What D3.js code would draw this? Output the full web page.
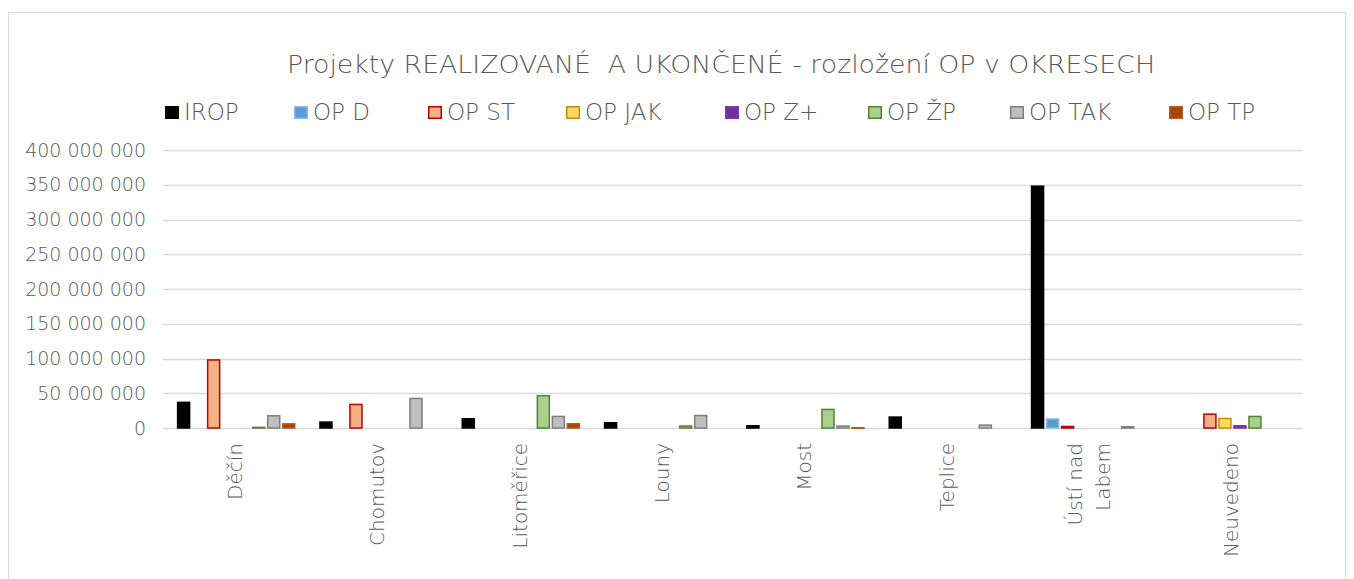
<!DOCTYPE html>
<html>
<head>
<meta charset="utf-8">
<script src="https://cdn.jsdelivr.net/npm/d3@7"></script>
<style>
  body { margin: 0; background: #fff; }
  text { font-family: "DejaVu Sans", sans-serif; font-weight: 300; fill: #595959; }
</style>
</head>
<body>
<div id="container"></div>
<script>
/* DATA */
const categories = ["Děčín", "Chomutov", "Litoměřice", "Louny", "Most", "Teplice", "Ústí nad Labem", "Neuvedeno"];
const seriesNames = ["IROP", "OP D", "OP ST", "OP JAK", "OP Z+", "OP ŽP", "OP TAK", "OP TP"];

const irop  = [38000000, 9600000, 14400000, 8600000, 4300000, 16800000, 349000000, 0];
const opD   = [0, 0, 0, 0, 0, 0, 14000000, 0];
const opST  = [99000000, 35000000, 0, 0, 0, 0, 3300000, 21000000];
const opJAK = [0, 0, 0, 0, 0, 0, 0, 14800000];
const opZ   = [0, 0, 0, 0, 0, 0, 0, 4300000];
const opZP  = [2000000, 0, 47500000, 3900000, 27800000, 0, 0, 17700000];
const opTAK = [18700000, 43600000, 17700000, 19000000, 3900000, 5300000, 2900000, 0];
const opTP  = [7000000, 0, 7200000, 0, 1500000, 0, 0, 0];

const yTicks = [0, 50000000, 100000000, 150000000, 200000000, 250000000, 300000000, 350000000, 400000000];

const fills   = ["#000000", "#5b9bd5", "#f4b183", "#ffd966", "#7030a0", "#a9d18e", "#bfbfbf", "#a0470f"];
const strokes = ["#000000", "#8db4e2", "#c00000", "#bf9000", "#7a3aa8", "#548235", "#7f7f7f", "#b9561a"];

const seriesValues = [irop, opD, opST, opJAK, opZ, opZP, opTAK, opTP];

/* CONSTANTS */
const width = 1354;
const height = 579;
const plot = { left: 165, right: 1303.6, top: 150, bottom: 428 };

/* SCALES */
const x0 = d3.scaleBand()
  .domain(categories)
  .range([plot.left, plot.right]);

const x1 = d3.scaleBand()
  .domain(seriesNames)
  .range([0, x0.bandwidth()])
  .paddingInner(0.1)
  .paddingOuter(0.79);

const yScale = d3.scaleLinear()
  .domain([0, 400000000])
  .range([plot.bottom, plot.top]);

const color = d3.scaleOrdinal().domain(seriesNames).range(fills);
const edge = d3.scaleOrdinal().domain(seriesNames).range(strokes);

const fmt = d3.formatLocale({ decimal: ",", thousands: " ", grouping: [3], currency: ["", ""] }).format(",d");

/* SVG */
const svg = d3.select("#container")
  .append("svg")
  .attr("width", width)
  .attr("height", height);

// outer chart border
svg.append("rect")
  .attr("x", 8.5)
  .attr("y", 12.5)
  .attr("width", 1337)
  .attr("height", 620)
  .attr("fill", "#fff")
  .attr("stroke", "#d9d9d9");

// title
svg.append("text")
  .attr("x", 721)
  .attr("y", 73)
  .attr("text-anchor", "middle")
  .attr("xml:space", "preserve")
  .attr("textLength", 868)
  .attr("lengthAdjust", "spacingAndGlyphs")
  .style("font-size", "25px")
  .text("Projekty REALIZOVANÉ  A UKONČENÉ - rozložení OP v OKRESECH");

// gridlines
svg.append("g")
  .selectAll("line")
  .data(yTicks)
  .join("line")
  .attr("x1", plot.left - 2)
  .attr("x2", plot.right - 1)
  .attr("y1", d => Math.round(yScale(d)) + 0.5)
  .attr("y2", d => Math.round(yScale(d)) + 0.5)
  .attr("stroke", "#d9d9d9")
  .attr("stroke-width", 1.5);

// y axis labels
const yAxis = d3.axisLeft(yScale)
  .tickValues(yTicks)
  .tickFormat(fmt)
  .tickSize(0)
  .tickPadding(0);

const yG = svg.append("g")
  .attr("transform", `translate(146, 0)`)
  .call(yAxis);
yG.select(".domain").remove();
yG.selectAll("text")
  .style("font-size", "19px")
  .style("font-family", "DejaVu Sans, sans-serif")
  .style("font-weight", 300)
  .attr("fill", "#595959");

// bars
const rows = categories.map((c, i) => ({
  category: c,
  values: seriesNames.map((s, j) => ({ key: s, value: seriesValues[j][i] }))
}));

svg.append("g")
  .selectAll("g")
  .data(rows)
  .join("g")
  .attr("transform", d => `translate(${x0(d.category)}, 0)`)
  .selectAll("rect")
  .data(d => d.values.filter(v => v.value > 0))
  .join("rect")
  .attr("x", d => x1(d.key) + 0.75)
  .attr("y", d => yScale(d.value) + 0.75)
  .attr("width", x1.bandwidth() - 1.5)
  .attr("height", d => Math.max(0.5, yScale(0) - yScale(d.value) - 0.75))
  .attr("fill", d => color(d.key))
  .attr("stroke", d => edge(d.key))
  .attr("stroke-width", 1.5);

// x labels (rotated)
const xLab = svg.append("g")
  .selectAll("text")
  .data(categories)
  .join("text")
  .attr("transform", d => `translate(${x0(d) + x0.bandwidth() / 2 - 1}, 443) rotate(-90)`)
  .attr("text-anchor", "end")
  .style("font-size", "20px");

xLab.each(function (d) {
  const el = d3.select(this);
  if (d === "Ústí nad Labem") {
    el.append("tspan").attr("x", 0).attr("dy", "-0.35em").text("Ústí nad");
    el.append("tspan").attr("x", 0).attr("dy", "1.4em").text("Labem");
  } else {
    el.append("tspan").attr("x", 0).attr("dy", "0.35em").text(d);
  }
});

// legend
const legendX = [165, 294, 428, 566, 725, 868, 1010, 1169];
const legend = svg.append("g")
  .selectAll("g")
  .data(seriesNames)
  .join("g")
  .attr("transform", (d, i) => `translate(${legendX[i]}, 0)`);

legend.append("rect")
  .attr("x", 0.75)
  .attr("y", 106.75)
  .attr("width", 12.5)
  .attr("height", 11.5)
  .attr("fill", d => color(d))
  .attr("stroke", d => edge(d))
  .attr("stroke-width", 1.5);

legend.append("text")
  .attr("x", 19)
  .attr("y", 120)
  .style("font-size", "23px")
  .text(d => d);
</script>
</body>
</html>
